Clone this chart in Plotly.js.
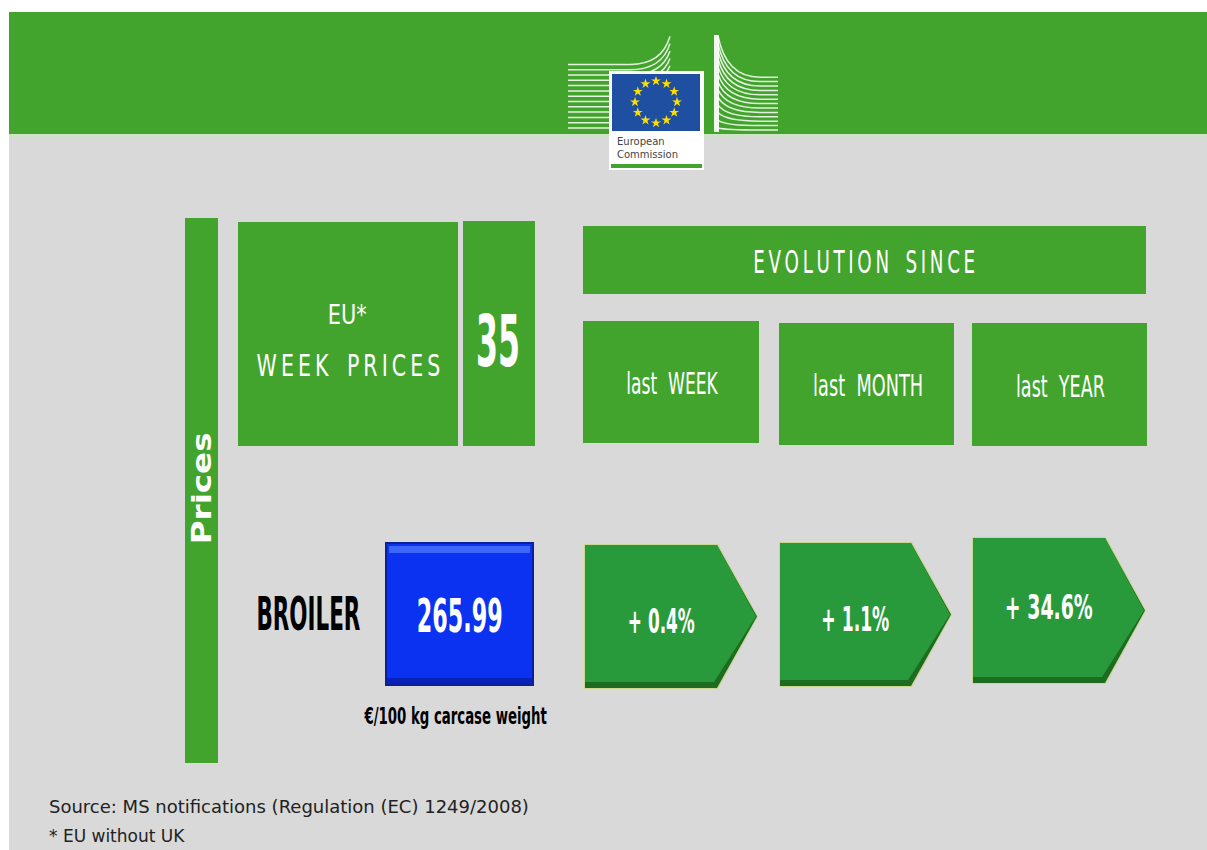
<!DOCTYPE html>
<html><head><meta charset="utf-8">
<script src="https://cdn.plot.ly/plotly-3.0.1.min.js"></script>
<style>html,body{margin:0;padding:0;background:#fff}#c{width:1207px;height:850px}</style>
</head><body><div id="c"></div>
<script>
// ---- data ----
const product = "BROILER";
const weekNumber = "35";
const price = "265.99";
const unit = "€/100 kg carcase weight";
const periods = ["last  WEEK", "last  MONTH", "last  YEAR"];
const changes = ["+ 0.4%", "+ 1.1%", "+ 34.6%"];
const sourceNote = "Source: MS notifications (Regulation (EC) 1249/2008)";
const footNote = "* EU without UK";

// ---- layout helpers ----
const GREEN = "#43A42D", GREY = "#D9D9D9", ARROW = "#289A3C", BLUE = "#0A32F0";
const FONT = "DejaVu Sans, sans-serif";
const shapes = [], ann = [];
function rect(x0,y0,x1,y1,fill,line){shapes.push({type:"rect",xref:"x",yref:"y",x0,y0,x1,y1,fillcolor:fill,line:line||{width:0},layer:"below"});}
function path(p,fill,line){shapes.push({type:"path",xref:"x",yref:"y",path:p,fillcolor:fill||"rgba(0,0,0,0)",line:line||{width:0},layer:"below"});}
function txt(x,y,t,size,color,opts){ann.push(Object.assign({x,y,xref:"x",yref:"y",text:t,showarrow:false,font:{size,color,family:FONT},xanchor:"center",yanchor:"middle"},opts||{}));}
function spaced(s,sep){return s.split("").map(c=>c===" "?"\u2002":c).join(sep||"\u2009");}

// background
rect(9,12,1207,134,GREEN);
rect(9,134,1207,137,"#CFE3C8");
rect(9,137,1207,850,GREY);

// EC building lines (left): fan of lines bending upward
for(let i=0;i<13;i++){
  const yl=128-i*5.3, yr=125-i*7.4;
  path(`M 568,${yl} L 630,${yl} Q ${662},${yl} ${670},${yr}`,null,{color:"rgba(255,255,255,0.85)",width:1.5});
}
// EC building lines (right): fan bending downward
for(let i=0;i<13;i++){
  const ys=128-i*7.7, ye=130-i*4.4;
  path(`M 718,${ys} Q ${726},${ye} ${760},${ye} L 778,${ye}`,null,{color:"rgba(255,255,255,0.85)",width:1.5});
}
rect(714,35,719,132,"rgba(255,255,255,0.92)");
// logo box
rect(609,71,704,170,"#FFFFFF");
rect(612,74,700,131,"#1F4FA0");
rect(611,164,702,168,GREEN);
txt(615,141,"European",10,"#444",{xanchor:"left"});
txt(615,154,"Commission",10,"#444",{xanchor:"left"});
// stars
const sx=[],sy=[];
for(let k=0;k<12;k++){const a=k*Math.PI/6;sx.push(656+21*Math.sin(a));sy.push(102-21*Math.cos(a));}

// Prices bar
rect(185,218,218,763,GREEN);
txt(202,489,"<b>Prices</b>",26,"#FFFFFF",{textangle:-90,fitW:112});

// header boxes
rect(238,222,458,446,GREEN);
rect(463,221,535,446,GREEN);
txt(347,314,"EU*",27,"#FFFFFF",{fitW:39});
txt(348,365,spaced("WEEK PRICES","\u2009"),30,"#FFFFFF",{fitW:184});
txt(498,341,"<b>"+weekNumber+"</b>",72,"#FFFFFF",{fitW:44});

rect(583,226,1146,294,GREEN);
txt(864,262,spaced("EVOLUTION SINCE","\u2009"),32,"#FFFFFF",{fitW:222});

const pbox=[[583,321,759,443],[779,323,954,445],[972,323,1147,446]];
const pw=[92,110,89];
pbox.forEach((b,i)=>{rect(b[0],b[1],b[2],b[3],GREEN);txt((b[0]+b[2])/2+1,(b[1]+b[3])/2+1,periods[i],31,"#FFFFFF",{fitW:pw[i]});});

// product row
txt(308,614,"<b>"+product+"</b>",46,"#000000",{fitW:104});
rect(385,542,534,686,"#0A1F9A");
rect(387,544,532,684,BLUE);
rect(389,546,530,553,"#3D66FA");
rect(387,678,532,684,"#0822B8");
txt(460,616,"<b>"+price+"</b>",46,"#FFFFFF",{fitW:86});
txt(455,716,"<b>"+unit+"</b>",23,"#000000",{fitW:183});

const arr=[[585,545,757,688],[780,543,951,686],[973,538,1145,683]];
const cw=[67,68,88];
arr.forEach((a,i)=>{
  const [x0,y0,x1,y1]=a, xm=x1-40, ym=(y0+y1)/2;
  path(`M ${x0-1},${y0-1} H ${xm+1} L ${x1+1},${ym} L ${xm+1},${y1+1} H ${x0-1} Z`,"#C8D890");
  path(`M ${x0},${y0} H ${xm} L ${x1},${ym} L ${xm},${y1} H ${x0} Z`,"#1E6B22");
  path(`M ${x0},${y0} H ${xm} L ${x1-1},${ym} L ${xm-3},${y1-6} H ${x0} Z`,ARROW);
  txt((x0+xm)/2+10,ym+(i==2?-3:5),"<b>"+changes[i]+"</b>",33,"#FFFFFF",{fitW:cw[i]});
});

// notes
txt(47,806,sourceNote,18,"#222",{xanchor:"left"});
txt(47,836,footNote,17,"#222",{xanchor:"left"});

const fits=ann.map(a=>a.fitW||0);
ann.forEach(a=>delete a.fitW);

const data=[{type:"scatter",mode:"markers",x:sx,y:sy,marker:{symbol:"star",size:7.5,color:"#FFDD00",line:{width:0}},hoverinfo:"skip",showlegend:false}];
const layout={width:1207,height:850,margin:{l:0,r:0,t:0,b:0},paper_bgcolor:"#FFFFFF",plot_bgcolor:"rgba(0,0,0,0)",
  xaxis:{range:[0,1207],visible:false,fixedrange:true},yaxis:{range:[850,0],visible:false,fixedrange:true},
  shapes,annotations:ann,showlegend:false};
Plotly.newPlot("c",data,layout,{staticPlot:true,displayModeBar:false}).then(gd=>{
  // condense texts horizontally to the reference widths (no condensed font installed)
  gd.querySelectorAll("g.annotation").forEach(g=>{
    const i=+g.getAttribute("data-index");
    if(!fits[i]) return;
    const t=g.querySelector("text.annotation-text");
    const bb=t.getBBox();
    if(!(bb.width>0)) return;
    const s=fits[i]/bb.width, cx=bb.x+bb.width/2;
    t.setAttribute("transform",`translate(${cx},0) scale(${s},1) translate(${-cx},0)`);
    const bg=g.querySelector("rect.bg");
    if(bg){
      const ow=+bg.getAttribute("width"), ox=+bg.getAttribute("x")||0, nw=fits[i]+4;
      bg.setAttribute("x",ox+(ow-nw)/2);
      bg.setAttribute("width",nw);
    }
  });
});
</script></body></html>
